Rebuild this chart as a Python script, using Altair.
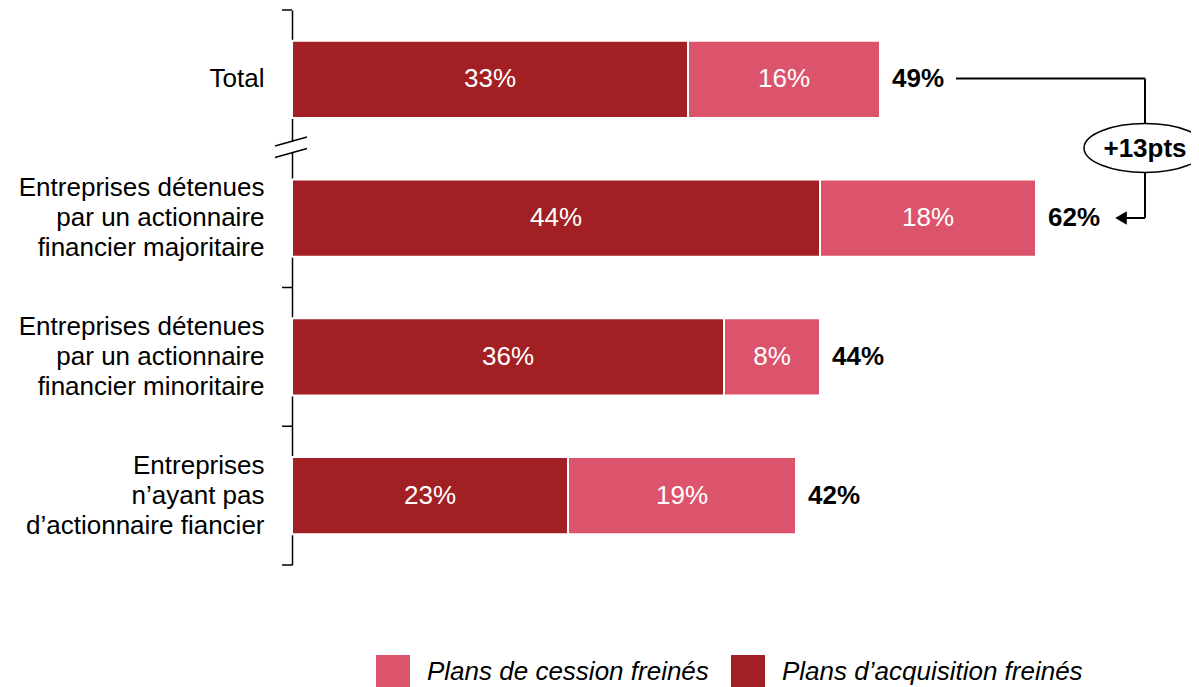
import altair as alt
import pandas as pd

categories = [
    "Total",
    "Entreprises détenues\npar un actionnaire\nfinancier majoritaire",
    "Entreprises détenues\npar un actionnaire\nfinancier minoritaire",
    "Entreprises\nn’ayant pas\nd’actionnaire fiancier",
]
acquisition = [33, 44, 36, 23]
cession = [16, 18, 8, 19]
totals = [49, 62, 44, 42]
series_names = ["Plans de cession freinés", "Plans d’acquisition freinés"]
series_colors = ["#DC546B", "#A21F23"]
annotation_text = "+13pts"

rows = []
for c, a, s in zip(categories, acquisition, cession):
    rows.append({"cat": c, "series": series_names[1], "value": a, "ord": 0})
    rows.append({"cat": c, "series": series_names[0], "value": s, "ord": 1})
df = pd.DataFrame(rows)
df_tot = pd.DataFrame({"cat": categories, "total": totals})
# axis ticks sit on band boundaries; the boundary between Total and the rest is an axis break
df_tick_start = pd.DataFrame({"cat": [categories[0], categories[2], categories[3]]})
df_tick_end = pd.DataFrame({"cat": [categories[3]]})
one = pd.DataFrame({"k": [0]})

FONT = "Liberation Sans"
FS = 26
W, H = 888, 555
STEP = H / 4.0
P_IN = 0.445
P_OUT = P_IN / 2
OUTER = P_OUT * STEP

yscale = alt.Scale(domain=categories, paddingInner=P_IN, paddingOuter=P_OUT)
xscale = alt.Scale(domain=[0, 74], nice=False, zero=True)

yaxis = alt.Axis(
    title=None,
    labelExpr="split(datum.label, '\\n')",
    labelFont=FONT,
    labelFontSize=FS,
    labelColor="black",
    labelLimit=500,
    labelLineHeight=30,
    labelPadding=28,
    labelOffset={"condition": {"test": "datum.value == 'Total'", "value": 0}, "value": -30},
    ticks=False,
    domainColor="black",
    domainWidth=1.5,
)

base = alt.Chart(df).transform_stack(
    stack="value", groupby=["cat"], as_=["x0", "x1"], sort=[alt.SortField("ord", order="ascending")]
)

bars = base.mark_bar(stroke="white", strokeWidth=2).encode(
    y=alt.Y("cat:N", sort=categories, scale=yscale, axis=yaxis),
    x=alt.X("x0:Q", scale=xscale, axis=None),
    x2="x1:Q",
    color=alt.Color(
        "series:N",
        scale=alt.Scale(domain=series_names, range=series_colors),
        legend=alt.Legend(
            title=None,
            orient="none",
            legendX=84,
            legendY=645,
            direction="horizontal",
            symbolType="square",
            symbolSize=1156,
            symbolStrokeWidth=0,
            labelFont=FONT,
            labelFontSize=FS,
            labelFontStyle="italic",
            labelColor="black",
            labelLimit=600,
            labelOffset=17,
            columnPadding=22,
            padding=0,
        ),
    ),
)

seg_text = base.transform_calculate(
    mid="(datum.x0 + datum.x1) / 2", lab="datum.value + '%'"
).mark_text(font=FONT, fontSize=FS, color="white", baseline="middle", align="center").encode(
    y=alt.Y("cat:N", sort=categories, scale=yscale),
    x=alt.X("mid:Q", scale=xscale),
    text="lab:N",
)

tot_text = alt.Chart(df_tot).transform_calculate(lab="datum.total + '%'").mark_text(
    font=FONT, fontSize=FS, fontWeight="bold", color="black", align="left", baseline="middle", dx=12
).encode(
    y=alt.Y("cat:N", sort=categories, scale=yscale),
    x=alt.X("total:Q", scale=xscale),
    text="lab:N",
)

ticks_a = alt.Chart(df_tick_start).mark_rule(color="black", strokeWidth=1.5, yOffset=-OUTER).encode(
    y=alt.Y("cat:N", sort=categories, scale=yscale, bandPosition=0),
    x=alt.value(-10), x2=alt.value(0),
)
ticks_b = alt.Chart(df_tick_end).mark_rule(color="black", strokeWidth=1.5, yOffset=OUTER).encode(
    y=alt.Y("cat:N", sort=categories, scale=yscale, bandPosition=1),
    x=alt.value(-10), x2=alt.value(0),
)

# axis break
break_mask = alt.Chart(one).mark_rect(color="white").encode(
    x=alt.value(-4), x2=alt.value(4), y=alt.value(131.5), y2=alt.value(142.5)
)
slash1 = alt.Chart(one).mark_rule(color="black", strokeWidth=1.5).encode(
    x=alt.value(-17), y=alt.value(136), x2=alt.value(15), y2=alt.value(127)
)
slash2 = alt.Chart(one).mark_rule(color="black", strokeWidth=1.5).encode(
    x=alt.value(-17), y=alt.value(147.5), x2=alt.value(15), y2=alt.value(138.5)
)

# bracket annotation
h1 = alt.Chart(one).mark_rule(color="black", strokeWidth=2).encode(
    x=alt.value(664), x2=alt.value(853), y=alt.value(68.5)
)
v1 = alt.Chart(one).mark_rule(color="black", strokeWidth=2).encode(
    x=alt.value(853), y=alt.value(68.5), y2=alt.value(208)
)
h2 = alt.Chart(one).mark_rule(color="black", strokeWidth=2).encode(
    x=alt.value(830), x2=alt.value(853), y=alt.value(208)
)
arrow = alt.Chart(one).mark_point(
    shape="triangle-left", filled=True, color="black", size=180, opacity=1
).encode(x=alt.value(829), y=alt.value(208))
ellipse = alt.Chart(one).mark_point(
    shape="M-1,0A1,0.4,0,1,1,1,0A1,0.4,0,1,1,-1,0Z",
    size=14884,
    filled=True,
    fill="white",
    stroke="black",
    strokeWidth=1.5,
    opacity=1,
).encode(x=alt.value(853), y=alt.value(138))
ell_text = alt.Chart(one).mark_text(
    text=annotation_text, font=FONT, fontSize=FS, fontWeight="bold", color="black",
    align="center", baseline="middle"
).encode(x=alt.value(853), y=alt.value(139))

chart = alt.layer(
    bars, seg_text, tot_text, ticks_a, ticks_b, break_mask, slash1, slash2,
    h1, v1, h2, arrow, ellipse, ell_text
).properties(
    width=W,
    height=H,
    autosize=alt.AutoSizeParams(type="none"),
    padding={"left": 284, "top": 2, "right": 11, "bottom": 122},
).configure_view(strokeWidth=0)

chart.save("out.html", embed_options={"renderer": "svg", "actions": False})
